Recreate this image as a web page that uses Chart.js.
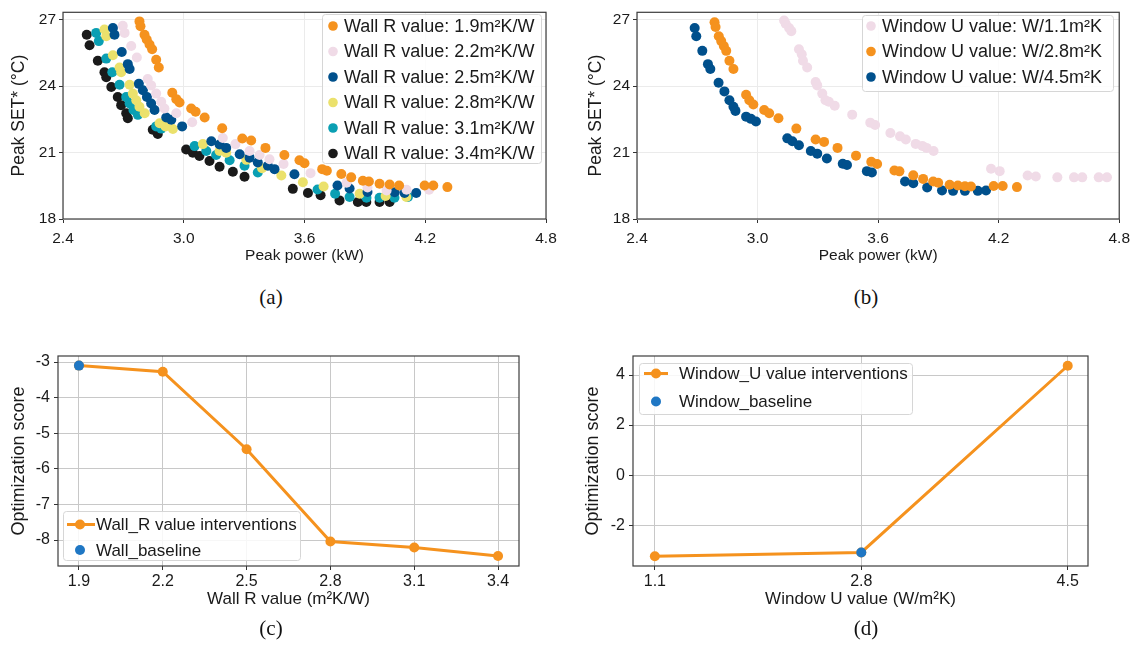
<!DOCTYPE html>
<html>
<head>
<meta charset="utf-8">
<script src="https://cdn.jsdelivr.net/npm/chart.js@4.4.1/dist/chart.umd.min.js"></script>
<style>
  body { margin: 0; background: #fff; width: 1136px; height: 666px; position: relative; overflow: hidden; }
  canvas { position: absolute; }
  .cap { position: absolute; font-family: "Liberation Serif", serif; font-size: 21px; color: #111; transform: translate(-50%, -50%); }
</style>
</head>
<body>
<canvas id="ca" width="568" height="270" style="left:0;top:0"></canvas>
<canvas id="cb" width="568" height="270" style="left:568px;top:0"></canvas>
<canvas id="cc" width="568" height="290" style="left:0;top:330px"></canvas>
<canvas id="cd" width="568" height="290" style="left:568px;top:330px"></canvas>
<div class="cap" style="left:271px;top:297px">(a)</div>
<div class="cap" style="left:866px;top:297px">(b)</div>
<div class="cap" style="left:271px;top:628px">(c)</div>
<div class="cap" style="left:866px;top:628px">(d)</div>
<script>
// ticks
const powerTicks = [2.4, 3.0, 3.6, 4.2, 4.8];
const setTicks = [18, 21, 24, 27];
const wallTicks = [1.9, 2.2, 2.5, 2.8, 3.1, 3.4];
const wallScoreTicks = [-8, -7, -6, -5, -4, -3];
const windowTicks = [1.1, 2.8, 4.5];
const windowScoreTicks = [-2, 0, 2, 4];

// (a) peak power (kW) vs peak SET* (°C), one list per wall R value
const wall19 = [[2.78,26.92],[2.785,26.70],[2.805,26.32],[2.816,26.10],[2.83,25.88],[2.843,25.66],[2.863,25.19],[2.876,24.84],[2.943,23.70],[2.963,23.41],[2.979,23.26],[3.037,22.99],[3.059,22.84],[3.104,22.58],[3.191,22.10],[3.291,21.63],[3.335,21.54],[3.406,21.21],[3.50,20.89],[3.575,20.65],[3.60,20.52],[3.688,20.25],[3.711,20.18],[3.783,20.03],[3.832,19.88],[3.89,19.73],[3.92,19.69],[3.973,19.59],[4.023,19.56],[4.07,19.51],[4.197,19.51],[4.24,19.51],[4.31,19.44]];
const wall22 = [[2.697,26.72],[2.706,26.40],[2.739,25.81],[2.767,25.29],[2.821,24.32],[2.838,24.03],[2.863,23.66],[2.888,23.29],[2.904,22.99],[2.963,22.77],[3.042,22.37],[3.194,21.66],[3.257,21.38],[3.327,21.07],[3.377,20.89],[3.426,20.70],[3.496,20.48],[3.63,20.07],[3.809,19.64],[3.913,19.42],[4.008,19.29],[4.107,19.32],[4.219,19.32]];
const wall25 = [[2.648,26.62],[2.656,26.32],[2.692,25.54],[2.722,24.99],[2.731,24.77],[2.777,24.10],[2.797,23.81],[2.817,23.51],[2.838,23.21],[2.855,22.92],[2.913,22.58],[2.938,22.48],[2.992,22.18],[3.137,21.51],[3.178,21.36],[3.211,21.21],[3.278,20.92],[3.327,20.77],[3.368,20.55],[3.418,20.40],[3.451,20.25],[3.55,20.02],[3.764,19.51],[3.824,19.38],[3.913,19.22],[4.048,19.21],[4.097,19.17],[4.155,19.17]];
const wall28 = [[2.606,26.55],[2.615,26.25],[2.648,25.39],[2.681,24.84],[2.689,24.62],[2.731,24.06],[2.747,23.66],[2.764,23.36],[2.78,23.07],[2.806,22.77],[2.88,22.32],[2.909,22.18],[2.946,22.06],[3.095,21.38],[3.178,21.07],[3.211,20.99],[3.311,20.67],[3.389,20.29],[3.485,19.96],[3.592,19.66],[3.695,19.47],[3.874,19.14],[4.003,19.04],[4.106,18.99]];
const wall31 = [[2.565,26.40],[2.578,26.03],[2.615,25.24],[2.645,24.62],[2.681,24.06],[2.714,23.51],[2.731,23.21],[2.75,22.92],[2.772,22.70],[2.863,22.18],[2.888,22.08],[3.054,21.29],[3.112,21.07],[3.161,20.89],[3.228,20.65],[3.302,20.40],[3.368,20.10],[3.665,19.33],[3.752,19.14],[3.824,18.99],[3.908,18.96],[3.973,18.96],[4.047,18.96],[4.114,18.99]];
const wall34 = [[2.518,26.32],[2.532,25.84],[2.573,25.14],[2.606,24.62],[2.615,24.40],[2.64,23.96],[2.672,23.51],[2.689,23.14],[2.714,22.77],[2.722,22.55],[2.846,22.03],[2.871,21.84],[3.012,21.14],[3.045,20.99],[3.078,20.84],[3.128,20.62],[3.178,20.36],[3.244,20.13],[3.302,19.91],[3.542,19.36],[3.617,19.17],[3.68,19.07],[3.774,18.84],[3.865,18.77],[3.907,18.77],[3.973,18.77],[4.023,18.77]];

// (b) one list per window U value
const win11 = [[3.132,26.96],[3.14,26.81],[3.157,26.62],[3.168,26.48],[3.206,25.66],[3.22,25.44],[3.226,25.14],[3.247,24.84],[3.289,24.18],[3.297,24.03],[3.322,23.66],[3.338,23.36],[3.355,23.29],[3.384,23.11],[3.471,22.71],[3.561,22.35],[3.585,22.24],[3.661,21.88],[3.709,21.73],[3.738,21.59],[3.787,21.39],[3.82,21.30],[3.841,21.21],[3.876,21.07],[4.162,20.27],[4.205,20.16],[4.344,19.96],[4.385,19.92],[4.492,19.88],[4.575,19.88],[4.616,19.88],[4.698,19.88],[4.739,19.88]];
const win28 = [[2.786,26.88],[2.791,26.67],[2.807,26.25],[2.819,26.03],[2.832,25.81],[2.844,25.59],[2.86,25.14],[2.88,24.77],[2.943,23.61],[2.959,23.36],[2.979,23.17],[3.033,22.92],[3.058,22.77],[3.104,22.55],[3.193,22.08],[3.289,21.59],[3.331,21.48],[3.398,21.21],[3.49,20.86],[3.566,20.58],[3.595,20.48],[3.681,20.19],[3.706,20.15],[3.775,19.97],[3.824,19.81],[3.874,19.69],[3.899,19.64],[3.956,19.55],[3.997,19.51],[4.032,19.48],[4.062,19.47],[4.175,19.49],[4.22,19.49],[4.291,19.44]];
const win45 = [[2.687,26.62],[2.695,26.25],[2.725,25.59],[2.753,24.99],[2.765,24.77],[2.806,24.15],[2.835,23.76],[2.86,23.36],[2.88,23.07],[2.89,22.88],[2.943,22.62],[2.967,22.52],[2.992,22.40],[3.148,21.64],[3.173,21.51],[3.206,21.33],[3.265,21.07],[3.297,20.95],[3.345,20.73],[3.424,20.49],[3.445,20.44],[3.544,20.16],[3.569,20.10],[3.734,19.69],[3.775,19.61],[3.844,19.42],[3.918,19.29],[3.973,19.27],[4.032,19.27],[4.096,19.27],[4.137,19.29]];

// (c) and (d) optimization scores
const wallR = [1.9, 2.2, 2.5, 2.8, 3.1, 3.4];
const wallScore = [-3.1, -3.27, -5.45, -8.04, -8.21, -8.45];
const wallBaseline = [1.9, -3.1];
const windowU = [1.1, 2.8, 4.5];
const windowScore = [-3.24, -3.09, 4.37];
const windowBaseline = [2.8, -3.09];

const ORANGE = '#f5921e', PINK = '#f0dbe7', NAVY = '#00508c', YELLOW = '#ebe16c', TEAL = '#0a9fb3', BLACK = '#1a1a1a', BLUE = '#1f77c4';
const FONT = '"Liberation Sans", Arial, sans-serif';

Chart.defaults.font.family = FONT;
Chart.defaults.color = '#1a1a1a';

const pts = arr => arr.map(p => ({ x: p[0], y: p[1] }));

const frame = {
  id: 'frame',
  afterDatasetsDraw(chart) {
    const { ctx, chartArea: a } = chart;
    ctx.save();
    ctx.strokeStyle = '#3c3c3c';
    ctx.lineWidth = 1.2;
    ctx.strokeRect(a.left, a.top, a.right - a.left, a.bottom - a.top);
    ctx.restore();
  }
};

// legend inside the axes, matplotlib style
const boxLegend = {
  id: 'boxLegend',
  afterDraw(chart, args, o) {
    const ctx = chart.ctx;
    ctx.save();
    ctx.fillStyle = 'rgba(255,255,255,0.85)';
    ctx.strokeStyle = '#d6d6d6';
    ctx.lineWidth = 1;
    ctx.beginPath();
    ctx.roundRect(o.box[0] + 0.5, o.box[1] + 0.5, o.box[2], o.box[3], 3);
    ctx.fill();
    ctx.stroke();
    ctx.font = o.font;
    ctx.textBaseline = 'middle';
    chart.data.datasets.forEach((ds, i) => {
      const y = o.rows[i];
      if (ds.showLine) {
        ctx.strokeStyle = ds.borderColor;
        ctx.lineWidth = ds.borderWidth;
        ctx.beginPath();
        ctx.moveTo(o.line[0], y);
        ctx.lineTo(o.line[1], y);
        ctx.stroke();
      }
      ctx.fillStyle = ds.backgroundColor;
      ctx.beginPath();
      ctx.arc(o.mx, y, o.r, 0, Math.PI * 2);
      ctx.fill();
      ctx.fillStyle = '#1a1a1a';
      ctx.fillText(ds.label, o.tx, y + 1);
    });
    ctx.restore();
  }
};

function axes(c) {
  return {
    responsive: false,
    animation: false,
    devicePixelRatio: 1,
    events: [],
    layout: { padding: c.padding },
    plugins: { legend: { display: false }, tooltip: { enabled: false }, boxLegend: c.legend },
    scales: {
      x: {
        type: 'linear', min: c.x[0], max: c.x[1],
        afterBuildTicks: s => { s.ticks = c.xTicks.map(v => ({ value: v })); },
        afterFit: s => { s.height = c.xHeight; },
        grid: { color: c.grid, lineWidth: 1, tickLength: 4, tickColor: '#333' },
        border: { display: false },
        ticks: { autoSkip: false, maxRotation: 0, padding: c.xPad, font: { size: c.tickSize }, color: '#1a1a1a',
                 callback: v => v.toFixed(1) },
        title: { display: true, text: c.xTitle, font: { size: c.xTitleSize }, color: '#1a1a1a', padding: { top: 0, bottom: c.xTitlePad } }
      },
      y: {
        type: 'linear', min: c.y[0], max: c.y[1],
        afterBuildTicks: s => { s.ticks = c.yTicks.map(v => ({ value: v })); },
        afterFit: s => { s.width = c.yWidth; },
        grid: { color: c.grid, lineWidth: 1, tickLength: 4, tickColor: '#333' },
        border: { display: false },
        ticks: { autoSkip: false, padding: c.yPad, font: { size: c.tickSize }, color: '#1a1a1a',
                 callback: v => String(v) },
        title: { display: true, text: c.yTitle, font: { size: c.yTitleSize }, color: '#1a1a1a', padding: { top: c.yTitlePad, bottom: 0 } }
      }
    }
  };
}

const dot = (label, data, color) => ({ label, data: pts(data), backgroundColor: color, pointRadius: 5, borderWidth: 0, pointHoverRadius: 0 });

new Chart(document.getElementById('ca'), {
  type: 'scatter',
  data: { datasets: [
    dot('Wall R value: 1.9m²K/W', wall19, ORANGE),
    dot('Wall R value: 2.2m²K/W', wall22, PINK),
    dot('Wall R value: 2.5m²K/W', wall25, NAVY),
    dot('Wall R value: 2.8m²K/W', wall28, YELLOW),
    dot('Wall R value: 3.1m²K/W', wall31, TEAL),
    dot('Wall R value: 3.4m²K/W', wall34, BLACK)
  ] },
  options: axes({
    padding: { left: 0, top: 9, right: 22, bottom: 0 },
    x: [2.4, 4.8], xTicks: powerTicks, y: [18, 27.33], yTicks: setTicks,
    xHeight: 51, yWidth: 63, grid: '#ebebeb', tickSize: 15.5, xPad: 6, yPad: 3,
    xTitle: 'Peak power (kW)', xTitleSize: 15.5, xTitlePad: 5,
    yTitle: 'Peak SET* (°C)', yTitleSize: 17.5, yTitlePad: 9,
    legend: { box: [322, 14, 219, 149], rows: [26, 51.5, 77, 102.5, 128, 153.5], mx: 333, r: 4.8, tx: 344, font: '18px ' + FONT }
  }),
  plugins: [frame, boxLegend]
});

new Chart(document.getElementById('cb'), {
  type: 'scatter',
  data: { datasets: [
    dot('Window U value: W/1.1m²K', win11, PINK),
    dot('Window U value: W/2.8m²K', win28, ORANGE),
    dot('Window U value: W/4.5m²K', win45, NAVY)
  ] },
  options: axes({
    padding: { left: 0, top: 9, right: 13, bottom: 0 },
    x: [2.4, 4.8], xTicks: powerTicks, y: [18, 27.33], yTicks: setTicks,
    xHeight: 51, yWidth: 69, grid: '#ebebeb', tickSize: 15.5, xPad: 6, yPad: 3,
    xTitle: 'Peak power (kW)', xTitleSize: 15.5, xTitlePad: 5,
    yTitle: 'Peak SET* (°C)', yTitleSize: 17.5, yTitlePad: 18,
    legend: { box: [294, 15, 251, 76], rows: [26, 51.5, 77], mx: 303, r: 4.8, tx: 314, font: '18px ' + FONT }
  }),
  plugins: [frame, boxLegend]
});

new Chart(document.getElementById('cc'), {
  type: 'scatter',
  data: { datasets: [
    { label: 'Wall_R value interventions', data: wallR.map((x, i) => ({ x, y: wallScore[i] })), showLine: true,
      borderColor: ORANGE, backgroundColor: ORANGE, borderWidth: 3, pointRadius: 5, pointBorderWidth: 0, order: 1 },
    { label: 'Wall_baseline', data: [{ x: wallBaseline[0], y: wallBaseline[1] }], backgroundColor: BLUE,
      pointRadius: 5, pointBorderWidth: 0, order: 0 }
  ] },
  options: axes({
    padding: { left: 0, top: 26, right: 49, bottom: 0 },
    x: [1.825, 3.475], xTicks: wallTicks, y: [-8.73, -2.83], yTicks: wallScoreTicks,
    xHeight: 54, yWidth: 58, grid: '#c8c8c8', tickSize: 16, xPad: 2, yPad: 4,
    xTitle: 'Wall R value (m²K/W)', xTitleSize: 17, xTitlePad: 10,
    yTitle: 'Optimization score', yTitleSize: 18, yTitlePad: 8,
    legend: { box: [63, 181, 237, 49], rows: [194.5, 220], line: [67, 95], mx: 80, r: 5, tx: 96, font: '17px ' + FONT }
  }),
  plugins: [frame, boxLegend]
});

new Chart(document.getElementById('cd'), {
  type: 'scatter',
  data: { datasets: [
    { label: 'Window_U value interventions', data: windowU.map((x, i) => ({ x, y: windowScore[i] })), showLine: true,
      borderColor: ORANGE, backgroundColor: ORANGE, borderWidth: 3, pointRadius: 5, pointBorderWidth: 0, order: 1 },
    { label: 'Window_baseline', data: [{ x: windowBaseline[0], y: windowBaseline[1] }], backgroundColor: BLUE,
      pointRadius: 5, pointBorderWidth: 0, order: 0 }
  ] },
  options: axes({
    padding: { left: 0, top: 26, right: 48, bottom: 0 },
    x: [0.92, 4.667], xTicks: windowTicks, y: [-3.63, 4.76], yTicks: windowScoreTicks,
    xHeight: 54, yWidth: 65, grid: '#c8c8c8', tickSize: 16, xPad: 2, yPad: 4,
    xTitle: 'Window U value (W/m²K)', xTitleSize: 17, xTitlePad: 10,
    yTitle: 'Optimization score', yTitleSize: 18, yTitlePad: 14,
    legend: { box: [71, 33, 273, 51], rows: [43.5, 71.5], line: [76, 100], mx: 88, r: 5, tx: 111, font: '17px ' + FONT }
  }),
  plugins: [frame, boxLegend]
});
</script>
</body>
</html>
